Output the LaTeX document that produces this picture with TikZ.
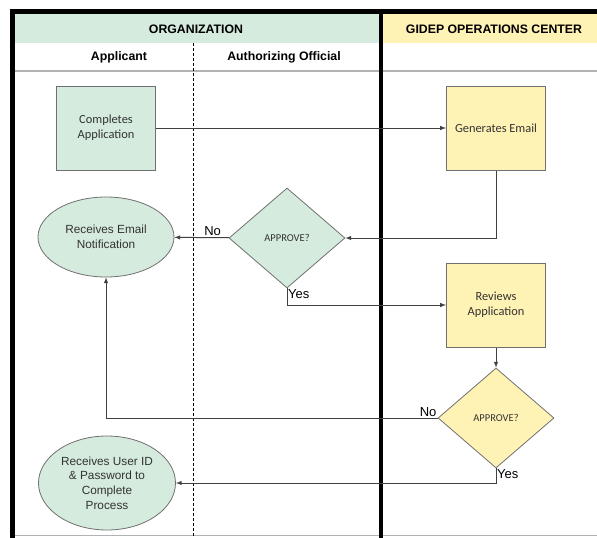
\documentclass[tikz,border=0pt]{standalone}
\usepackage{fontspec}
\setmainfont{Liberation Sans}
\newfontfamily\calfont{Carlito}
\usetikzlibrary{shapes.geometric}
\definecolor{orggreen}{HTML}{D5EBDE}
\definecolor{gidyellow}{HTML}{FFF2B5}
\definecolor{boxgrey}{HTML}{707070}
\definecolor{textgrey}{HTML}{333333}
\begin{document}
\begin{tikzpicture}[x=1pt,y=-1pt,
	task/.style={draw=boxgrey, line width=1pt, minimum width=99pt, minimum height=84pt, align=center, text=textgrey, font=\calfont\fontsize{12.4}{15}\selectfont},
	decide/.style={diamond, draw=boxgrey, line width=0.8pt, minimum width=116pt, minimum height=100pt, inner sep=0pt, text=textgrey, font=\calfont\fontsize{10.5}{12}\selectfont},
	outcome/.style={ellipse, draw=boxgrey, line width=0.8pt, fill=orggreen, align=center, inner sep=0pt, text=textgrey, font=\fontsize{11.8}{14.6}\selectfont},
	flow/.style={draw=black!75, line width=1pt, -latex},
	lane/.style={line width=5pt},
	head/.style={font=\bfseries\fontsize{12.3}{14}\selectfont},
	lbl/.style={inner sep=1pt, font=\fontsize{13}{15}\selectfont}]
	\useasboundingbox (0,0) rectangle (597,538);
	
	% swimlanes
	\fill[orggreen] (14,14) rectangle (379,43);
	\fill[gidyellow] (383,14) rectangle (597,43);
	\draw[black!30, line width=2pt] (14,71) -- (597,71);
	\draw[black!30, line width=1.5pt] (14,535.5) -- (597,535.5);
	\draw[dashed, line width=0.8pt, dash pattern=on 3pt off 2pt] (193.5,43) -- (193.5,538);
	\draw[lane] (597,11.5) -- (12,11.5) -- (12,538);
	\draw[line width=4pt] (381,11.5) -- (381,538);
	
	\node[head] (org) at (196,29) {ORGANIZATION};
	\node[head] (gidep) at (494,29) {GIDEP OPERATIONS CENTER};
	\node[head] (appl) at (119,57) {Applicant};
	\node[head] (auth) at (284,57) {Authorizing Official};
	
	% steps
	\node[task, fill=orggreen] (complete) at (106,128) {Completes\\Application};
	\node[task, fill=gidyellow] (genmail) at (496,128) {Generates Email};
	\node[decide, fill=orggreen] (approve1) at (287,238) {APPROVE?};
	\node[outcome, minimum width=136pt, minimum height=80pt] (notify) at (106,237) {Receives Email\\Notification};
	\node[task, fill=gidyellow] (review) at (496,305) {Reviews\\Application};
	\node[decide, fill=gidyellow] (approve2) at (496,418) {APPROVE?};
	\node[outcome, minimum width=137pt, minimum height=94pt] (userid) at (107,483) {Receives User ID\\\& Password to\\Complete\\Process};
	
	\draw[flow] (complete) -- (genmail);
	\draw[flow] (genmail) |- (approve1);
	\draw[flow] (approve1) -- node[lbl, above, pos=0.3] {No} (notify);
	\draw[flow] (approve1.south) |- (review.west);
	\node[lbl, anchor=north west] (yes1) at (approve1.south) {Yes};
	\draw[flow] (review) -- (approve2);
	\draw[flow] (approve2.west) -| (notify.south);
	\node[lbl, anchor=south east] (no2) at (approve2.west) {No};
	\draw[flow] (approve2.south) |- (userid.east);
	\node[lbl, anchor=north west] (yes2) at (approve2.south) {Yes};
\end{tikzpicture}
\end{document}
